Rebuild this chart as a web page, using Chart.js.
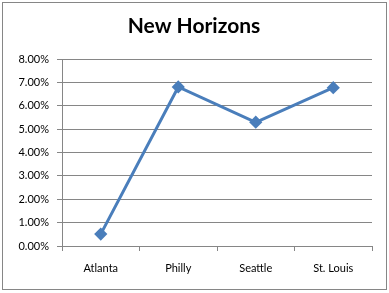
<!DOCTYPE html>
<html>
<head>
<meta charset="utf-8">
<script src="https://cdn.jsdelivr.net/npm/chart.js@4"></script>
<style>
  html, body { margin: 0; padding: 0; background: #fff; }
  #wrap { width: 389px; height: 293px; }
</style>
</head>
<body>
<div id="wrap"><canvas id="myChart" width="389" height="293"></canvas></div>
<script>
// data
const cities = ['Atlanta', 'Philly', 'Seattle', 'St. Louis'];
const rates = [0.51, 6.81, 5.30, 6.78];
const yTicks = [0, 1, 2, 3, 4, 5, 6, 7, 8];

const ctx = document.getElementById('myChart').getContext('2d');

// outer frame like the excel chart area border
const frame = {
    id: 'frame',
    beforeDraw(chart) {
        const c = chart.ctx;
        c.save();
        c.fillStyle = '#fff';
        c.fillRect(0, 0, chart.width, chart.height);
        c.strokeStyle = '#868686';
        c.lineWidth = 1;
        c.strokeRect(2.5, 2.5, 384, 287);
        c.restore();
    }
};

const myChart = new Chart(ctx, {
    type: 'line',
    data: {
        labels: cities,
        datasets: [{
            label: 'New Horizons',
            data: rates,
            borderColor: '#4A7EBB',
            backgroundColor: '#4A7EBB',
            borderWidth: 3,
            pointStyle: 'rectRot',
            pointRadius: 4.5,
            pointHoverRadius: 4.5,
            tension: 0
        }]
    },
    options: {
        responsive: false,
        animation: false,
        layout: { padding: { left: 16, right: 17, top: 0, bottom: 18 } },
        plugins: {
            legend: { display: false },
            tooltip: { enabled: false },
            title: {
                display: true,
                text: 'New Horizons',
                color: '#000',
                font: { family: 'Lato', size: 21, weight: 'bold' },
                padding: { top: 14, bottom: 20 }
            }
        },
        scales: {
            x: {
                offset: true,
                afterFit(scale) { scale.height = 29; },
                grid: {
                    offset: true,
                    drawOnChartArea: false,
                    drawTicks: true,
                    tickLength: 5,
                    color: '#868686'
                },
                border: { color: '#868686' },
                ticks: {
                    color: '#000',
                    padding: 11,
                    font: { family: 'Lato', size: 11 }
                }
            },
            y: {
                min: 0,
                max: 8,
                afterBuildTicks(scale) {
                    scale.ticks = yTicks.map(v => ({ value: v }));
                },
                afterFit(scale) { scale.width = 46; },
                grid: {
                    color: '#868686',
                    tickLength: 5
                },
                border: { color: '#868686' },
                ticks: {
                    color: '#000',
                    padding: 8,
                    font: { family: 'Lato', size: 11 },
                    callback: v => v.toFixed(2) + '%'
                }
            }
        }
    },
    plugins: [frame]
});
</script>
</body>
</html>
